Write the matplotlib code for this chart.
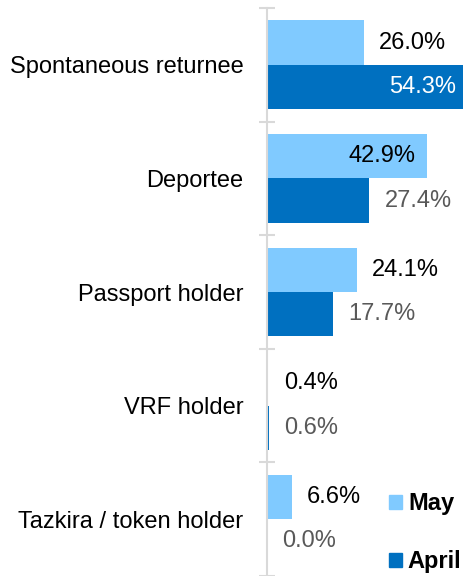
import matplotlib
matplotlib.use('Agg')
import matplotlib.pyplot as plt
from matplotlib.patches import Patch

plt.rcParams['font.family'] = ['Liberation Sans', 'DejaVu Sans']

categories = ['Spontaneous returnee', 'Deportee', 'Passport holder',
              'VRF holder', 'Tazkira / token holder']
may = [26.0, 42.9, 24.1, 0.4, 6.6]
april = [54.3, 27.4, 17.7, 0.6, 0.0]

MAY_COL = '#80caff'
APR_COL = '#0070c0'
GRID_COL = '#d9d9d9'
FS = 17

fig = plt.figure(figsize=(4.63, 5.76), dpi=100)
ax = fig.add_axes([267 / 463, 0, 0.4834, 568 / 576])

h = 0.39
off = 0.195
ys = list(range(len(categories)))
ax.barh([y - off for y in ys], may, height=h, color=MAY_COL)
ax.barh([y + off for y in ys], april, height=h, color=APR_COL)

for y, v in zip(ys, may):
    if v > 40:
        ax.annotate(f'{v:.1f}%', (v, y - off), xytext=(-8, 0),
                    textcoords='offset points', ha='right', va='center',
                    fontsize=FS, color='black')
    else:
        ax.annotate(f'{v:.1f}%', (v, y - off), xytext=(11, 0),
                    textcoords='offset points', ha='left', va='center',
                    fontsize=FS, color='black')
for y, v in zip(ys, april):
    if v > 40:
        ax.annotate(f'{v:.1f}%', (v, y + off), xytext=(-10, 0),
                    textcoords='offset points', ha='right', va='center',
                    fontsize=FS, color='white')
    else:
        ax.annotate(f'{v:.1f}%', (v, y + off), xytext=(11, 0),
                    textcoords='offset points', ha='left', va='center',
                    fontsize=FS, color='#595959')

ax.set_xlim(0, 60)
ax.set_ylim(4.5, -0.5)
ax.set_xticks([])

ax.set_yticks([y - 0.5 for y in range(len(categories) + 1)])
ax.set_yticklabels([])
ax.tick_params(axis='y', which='major', direction='inout', length=11,
               width=1.5, color=GRID_COL)
ax.set_yticks(ys, minor=True)
ax.set_yticklabels(categories, minor=True, fontsize=FS)
ax.tick_params(axis='y', which='minor', length=0, pad=17)

for s in ['top', 'right', 'bottom']:
    ax.spines[s].set_visible(False)
ax.spines['left'].set_color(GRID_COL)
ax.spines['left'].set_linewidth(1.5)

handles = [Patch(color=MAY_COL, label='May'), Patch(color=APR_COL, label='April')]
fig.legend(handles=handles, loc='upper left', bbox_to_anchor=(389 / 463, 1 - 492 / 576),
           frameon=False, prop={'weight': 'bold', 'size': FS},
           handlelength=0.55, handleheight=0.55, handletextpad=0.25,
           labelspacing=1.5, borderaxespad=0, borderpad=0)

fig.savefig('out.png', dpi=100)
